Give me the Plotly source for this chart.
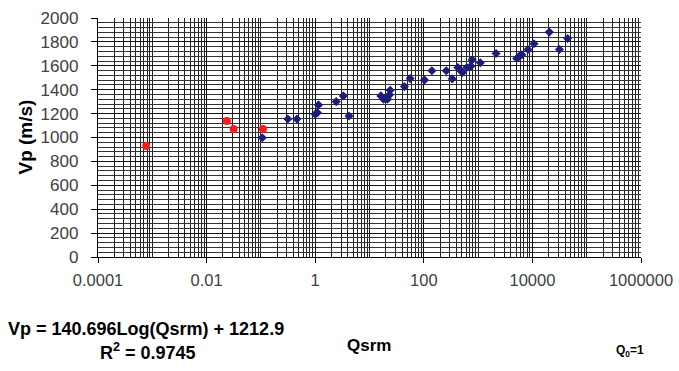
import plotly.graph_objects as go

# Red series (Qsrm, Vp)
red_q = [0.00077, 0.0236, 0.0315, 0.109]
red_vp = [929, 1138, 1071, 1071]

# Blue series (Qsrm, Vp)
blue_q = [0.106, 0.314, 0.46, 1.0, 1.1, 1.15, 2.44, 3.3, 4.2,
          16.2, 18.1, 20.3, 21.5, 23.4, 24.0, 44, 56, 103, 141, 259,
          334, 424, 469, 516, 619, 735, 778, 1100, 2140, 5150, 5750,
          6400, 8280, 10700, 20500, 31500, 44500]
blue_vp = [998, 1155, 1155, 1194, 1208, 1273, 1300, 1348, 1180,
           1348, 1320, 1334, 1320, 1357, 1396, 1426, 1493, 1482, 1558, 1558,
           1491, 1586, 1563, 1544, 1586, 1597, 1650, 1625, 1703, 1661, 1681,
           1692, 1737, 1784, 1882, 1737, 1829]

x_tickvals = [0.0001, 0.01, 1, 100, 10000, 1000000]
x_ticktext = ["0.0001", "0.01", "1", "100", "10000", "1000000"]

FONT = "Liberation Sans, Arial, sans-serif"

fig = go.Figure()
fig.add_trace(go.Scatter(x=blue_q, y=blue_vp, mode="markers",
                         marker=dict(symbol="diamond", size=7, color="#1c1c7c"),
                         showlegend=False))
fig.add_trace(go.Scatter(x=red_q, y=red_vp, mode="markers",
                         marker=dict(symbol="circle", size=8, color="#ff1a1a"),
                         showlegend=False))

fig.update_layout(
    width=679, height=371,
    margin=dict(l=98, r=38, t=18, b=114),
    paper_bgcolor="white", plot_bgcolor="white",
    font=dict(family=FONT, color="#404040"),
    xaxis=dict(type="log", range=[-4, 6], tickmode="array",
               tickvals=x_tickvals, ticktext=x_ticktext,
               tickfont=dict(size=16.5, color="#404040"),
               showgrid=True, gridcolor="#111111", gridwidth=1.3,
               showline=True, linecolor="black", linewidth=1.3,
               ticks="outside", ticklen=5, tickcolor="black",
               ticklabelstandoff=3, automargin=False,
               ticklabeloverflow="allow",
               minor=dict(dtick="D1", showgrid=True, gridcolor="#222222",
                          gridwidth=1.3, ticks=""),
               zeroline=False),
    yaxis=dict(range=[0, 2000], dtick=200, tick0=0,
               tickfont=dict(size=17, color="#404040"),
               showgrid=True, gridcolor="#111111", gridwidth=1.3,
               showline=True, linecolor="black", linewidth=1.3,
               ticks="outside", ticklen=6, tickcolor="black",
               ticklabelstandoff=9, automargin=False,
               ticklabeloverflow="allow",
               minor=dict(dtick=40, showgrid=True, gridcolor="#333333",
                          gridwidth=1.2, ticks=""),
               zeroline=False),
)

annos = [
    dict(text="<b>Vp (m/s)</b>", x=-0.1344, y=0.5, textangle=-90,
         font=dict(size=19, color="black")),
    dict(text="<b>Vp = 140.696Log(Qsrm) + 1212.9</b>", x=0.0884, y=-0.301,
         font=dict(size=18, color="black")),
    dict(text="<b>R<sup>2</sup> = 0.9745</b>", x=0.092, y=-0.397,
         font=dict(size=18, color="black")),
    dict(text="<b>Qsrm</b>", x=0.499, y=-0.372,
         font=dict(size=17, color="black")),
    dict(text="<b>Q<sub>0</sub>=1</b>", x=0.98, y=-0.393,
         font=dict(size=12, color="black")),
]
for a in annos:
    fig.add_annotation(xref="paper", yref="paper", showarrow=False,
                       xanchor="center", yanchor="middle", **a)

fig.write_html("out.html", config={"displayModeBar": False},
               post_script="document.body.style.margin='0';")
